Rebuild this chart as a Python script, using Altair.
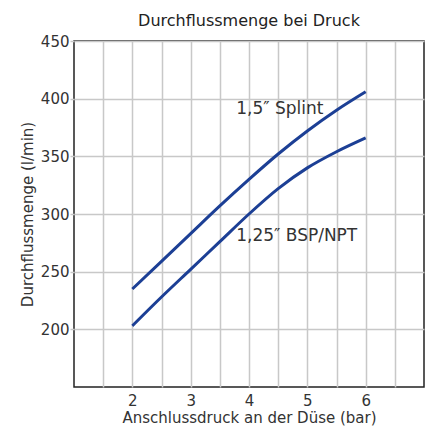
import altair as alt
import pandas as pd

pressure = [2, 2.5, 3, 3.5, 4, 4.5, 5, 5.5, 6]
flow_splint = [235, 259, 283, 307, 330, 352, 372, 390, 406]
flow_bsp = [203, 228, 252, 276, 300, 322, 340, 354, 366]
series_names = ["1,5″ Splint", "1,25″ BSP/NPT"]

label_x = [3.78, 3.78]
label_y = [391, 281]

x_grid = [1.5, 2.0, 2.5, 3.0, 3.5, 4.0, 4.5, 5.0, 5.5, 6.0, 6.5]
y_ticks = [200, 250, 300, 350, 400, 450]

rows = []
for p, v in zip(pressure, flow_splint):
    rows.append({"p": p, "q": v, "s": series_names[0]})
for p, v in zip(pressure, flow_bsp):
    rows.append({"p": p, "q": v, "s": series_names[1]})
df = pd.DataFrame(rows)
labels = pd.DataFrame({"p": label_x, "q": label_y, "t": series_names})

FONT = "DejaVu Sans"

x_scale = alt.Scale(domain=[1, 7], nice=False, zero=False)
y_scale = alt.Scale(domain=[150, 450], nice=False, zero=False)

x_axis = alt.Axis(
    values=x_grid,
    labelExpr="datum.value % 1 == 0 ? format(datum.value, 'd') : ''",
    title="Anschlussdruck an der Düse (bar)",
    ticks=False, domain=False, labelOverlap=False,
    gridColor="#c8c8c8", gridWidth=1.5,
    labelFontSize=15, titleFontSize=15, labelFont=FONT, titleFont=FONT,
    labelColor="#333", titleColor="#333", titleFontWeight="normal",
    labelPadding=6, titlePadding=2,
)
y_axis = alt.Axis(
    values=y_ticks,
    title="Durchflussmenge (l/min)",
    ticks=True, tickSize=4, tickColor="#c8c8c8", tickWidth=1.5,
    domain=False,
    gridColor="#c8c8c8", gridWidth=1.5,
    labelFontSize=15, titleFontSize=15, labelFont=FONT, titleFont=FONT,
    labelColor="#333", titleColor="#333", titleFontWeight="normal",
    labelPadding=1, titlePadding=5,
)

lines = alt.Chart(df).mark_line(
    interpolate="monotone", color="#1c3f95", strokeWidth=3
).encode(
    x=alt.X("p:Q", scale=x_scale, axis=x_axis),
    y=alt.Y("q:Q", scale=y_scale, axis=y_axis),
    detail="s:N",
)

texts = alt.Chart(labels).mark_text(
    align="left", baseline="middle", font=FONT, fontSize=17, color="#333"
).encode(
    x=alt.X("p:Q", scale=x_scale, axis=x_axis),
    y=alt.Y("q:Q", scale=y_scale, axis=y_axis),
    text="t:N",
)

chart = alt.layer(lines, texts).properties(
    width=350, height=346,
    title=alt.TitleParams(
        "Durchflussmenge bei Druck", font=FONT, fontSize=16,
        fontWeight="normal", color="#222", offset=5, anchor="middle",
        frame="group"
    ),
    autosize=alt.AutoSizeParams(type="none"),
    padding={"left": 66, "top": 33, "right": 1, "bottom": 40},
).configure_view(stroke="#222", strokeWidth=1.5)

chart.save("out.html", embed_options={"renderer": "svg", "actions": False})
